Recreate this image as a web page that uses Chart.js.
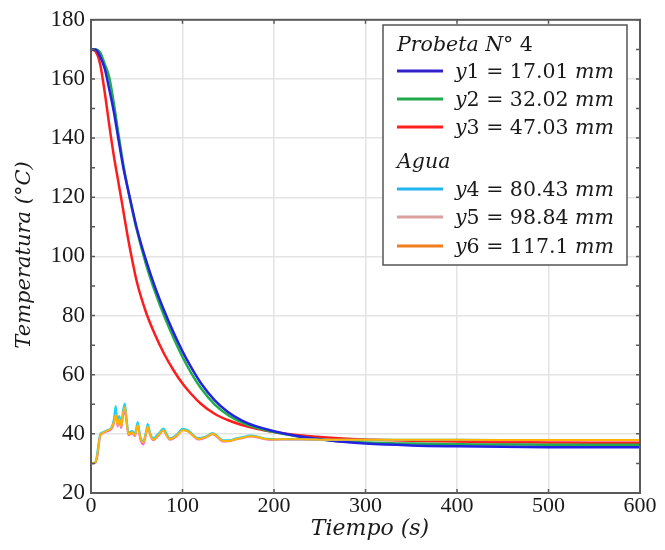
<!DOCTYPE html>
<html>
<head>
<meta charset="utf-8">
<script src="https://cdn.jsdelivr.net/npm/chart.js@4.4.1/dist/chart.umd.min.js"></script>
<style>
  html, body { margin: 0; padding: 0; background: #ffffff; }
  #wrap { width: 665px; height: 550px; }
</style>
</head>
<body>
<div id="wrap"><canvas id="c" width="665" height="550"></canvas></div>
<script>
// ---------- data ----------
const timeMain = [0, 5, 10, 15, 20, 25, 30, 35, 40, 45, 50, 60, 70, 80, 90, 100, 110, 120, 135, 150, 165, 180, 200, 225, 250, 275, 300, 350, 400, 450, 500, 550, 600];
const y1 = [170, 170, 167.5, 163.5, 156.5, 148.8, 139.6, 130.6, 123.2, 116.3, 109.6, 98.8, 89.6, 81.6, 74.4, 67.9, 62.2, 57.2, 51.4, 47.3, 44.5, 42.6, 40.9, 39.3, 38.2, 37.3, 36.7, 36.1, 35.8, 35.6, 35.5, 35.5, 35.5];
const y2 = [170, 170, 169, 165, 160.5, 151.6, 141.4, 131.6, 123.3, 115.8, 109.0, 97.5, 88.0, 79.8, 72.6, 66.0, 60.3, 55.5, 50.0, 46.3, 43.8, 42.1, 40.6, 39.2, 38.2, 37.5, 37.1, 36.7, 36.5, 36.4, 36.3, 36.3, 36.3];
const y3 = [170, 169.3, 165, 155.5, 144.3, 133.9, 125.0, 116.0, 106.9, 98.8, 91.5, 81.2, 73.5, 67.0, 61.6, 57.0, 53.3, 50.2, 46.8, 44.6, 43.0, 41.8, 40.6, 39.6, 38.9, 38.4, 38.1, 37.7, 37.4, 37.2, 37.1, 37.0, 37.0];

const timeWater = [0, 5, 7, 10, 13, 17, 22, 25, 27, 29, 31, 33, 35, 37, 39, 41, 45, 48, 51, 54, 57, 60, 62, 65, 68, 72, 75, 79, 83, 86, 90, 95, 100, 106, 112, 117, 125, 133, 139, 144, 150, 158, 166, 174, 182, 190, 200, 215, 230, 260, 300, 400, 500, 600];
const y4 = [30, 30.5, 34, 39.8, 40.5, 41.2, 42, 45, 49.4, 44, 46, 43, 48, 50.3, 45, 40.5, 41, 40, 44, 39, 37.5, 40.5, 43.3, 40, 38.5, 39.5, 40.5, 41.8, 39.8, 38.5, 38.9, 40.2, 41.7, 41.2, 39.6, 38.5, 39, 40.3, 39, 37.8, 37.8, 38.4, 38.9, 39.4, 39.1, 38.4, 38.2, 38.2, 38.2, 38, 38, 38, 37.9, 37.9];
const y5 = [30, 30.2, 32.5, 39.2, 40.2, 40.8, 41.5, 43.5, 47.5, 42.5, 44.5, 42, 46, 48, 43.5, 39.5, 40.2, 39.2, 42.8, 38, 36.4, 39.6, 42.3, 39.2, 37.8, 38.8, 39.8, 41.2, 39.2, 38, 38.4, 39.6, 41.3, 40.8, 39.2, 38.1, 38.7, 39.9, 38.6, 37.4, 37.5, 38.1, 38.6, 39.1, 38.8, 38.2, 38, 38.1, 38.1, 37.9, 37.9, 37.9, 37.8, 37.8];
const y6 = [30, 30.5, 33, 39.5, 40.3, 41, 41.8, 44, 46.5, 43, 45, 42.5, 47, 49, 44, 39.8, 40.5, 39.5, 43, 38.5, 37, 40, 42.5, 39.5, 38, 39, 40, 41.2, 39.3, 38.2, 38.6, 39.8, 41.2, 40.8, 39.3, 38.3, 38.8, 40, 38.8, 37.6, 37.6, 38.2, 38.7, 39.2, 38.9, 38.3, 38.1, 38.2, 38.2, 38, 38, 38, 37.9, 37.9];

const xTicks = [0, 100, 200, 300, 400, 500, 600];
const yTicks = [20, 40, 60, 80, 100, 120, 140, 160, 180];
const seriesLabels = ['y1 = 17.01 mm', 'y2 = 32.02 mm', 'y3 = 47.03 mm', 'y4 = 80.43 mm', 'y5 = 98.84 mm', 'y6 = 117.1 mm'];
const groupTitles = ['Probeta N° 4', 'Agua'];
const xTitle = 'Tiempo (s)';
const yTitle = 'Temperatura (°C)';

// ---------- styles ----------
const lineColors = ['#2222e0', '#22ad4c', '#ff1c1c', '#18d0ff', '#f060e6', '#ffb400'];
const legendColors = ['#3322cc', '#22aa4a', '#ff2020', '#22b4ee', '#dda0a0', '#f07d1f'];
const lineWidths = [2.5, 2.5, 2.5, 2, 2, 2];
const drawOrder = [3, 4, 5, 1, 2, 0];

function pts(times, vals) { return times.map((t, i) => ({ x: t, y: vals[i] })); }
const seriesData = [pts(timeMain, y1), pts(timeMain, y2), pts(timeMain, y3), pts(timeWater, y4), pts(timeWater, y5), pts(timeWater, y6)];

const datasets = seriesData.map((d, i) => ({
  label: seriesLabels[i],
  data: d,
  borderColor: lineColors[i],
  backgroundColor: lineColors[i],
  borderWidth: lineWidths[i],
  pointRadius: 0,
  cubicInterpolationMode: 'monotone',
  fill: false,
  order: drawOrder[i]
}));

const frameColor = '#5a5a5a';
const textColor = '#1a1a1a';

const framePlugin = {
  id: 'frame',
  afterDatasetsDraw(chart) {
    const ctx = chart.ctx, a = chart.chartArea;
    const xs = chart.scales.x, ys = chart.scales.y;
    ctx.save();
    ctx.strokeStyle = frameColor;
    ctx.lineWidth = 1.5;
    for (let v = ys.min; v <= ys.max; v += 10) {
      const py = ys.getPixelForValue(v);
      ctx.beginPath();
      ctx.moveTo(a.left, py); ctx.lineTo(a.left + 4, py);
      ctx.moveTo(a.right, py); ctx.lineTo(a.right - 4, py);
      ctx.stroke();
    }
    xTicks.forEach(v => {
      const px = xs.getPixelForValue(v);
      ctx.beginPath();
      ctx.moveTo(px, a.bottom); ctx.lineTo(px, a.bottom - 4);
      ctx.moveTo(px, a.top); ctx.lineTo(px, a.top + 4);
      ctx.stroke();
    });
    ctx.lineWidth = 2;
    ctx.strokeRect(a.left, a.top, a.right - a.left, a.bottom - a.top);
    // axis titles
    ctx.fillStyle = textColor;
    ctx.textAlign = 'center';
    ctx.textBaseline = 'middle';
    ctx.font = 'italic 22px "DejaVu Serif"';
    ctx.fillText(xTitle, 370, 529);
    ctx.font = 'italic 21px "DejaVu Serif"';
    ctx.translate(25, 255);
    ctx.rotate(-Math.PI / 2);
    ctx.fillText(yTitle, 0, 0);
    ctx.restore();
  }
};

function drawRuns(ctx, x, y, parts, size) {
  parts.forEach(([txt, italic]) => {
    ctx.font = (italic ? 'italic ' : '') + size + 'px "DejaVu Serif"';
    ctx.fillText(txt, x, y);
    x += ctx.measureText(txt).width;
  });
}

const legendPlugin = {
  id: 'customLegend',
  afterDraw(chart) {
    const ctx = chart.ctx;
    const bx = 383, by = 25, bw = 244, bh = 240;
    ctx.save();
    ctx.fillStyle = '#ffffff';
    ctx.fillRect(bx, by, bw, bh);
    ctx.strokeStyle = '#555555';
    ctx.lineWidth = 1.5;
    ctx.strokeRect(bx, by, bw, bh);
    ctx.fillStyle = textColor;
    ctx.textAlign = 'left';
    ctx.textBaseline = 'alphabetic';
    const fs = 20.5;
    const t1 = groupTitles[0].split(' ');
    drawRuns(ctx, 397, 51, [[t1[0] + ' ' + t1[1], true], [' ' + t1[2], false]], fs);
    drawRuns(ctx, 397, 168, [[groupTitles[1], true]], fs);
    const rowsY = [71, 99, 127, 189, 217, 246];
    seriesLabels.forEach((lab, i) => {
      const ry = rowsY[i];
      ctx.strokeStyle = legendColors[i];
      ctx.lineWidth = 3;
      ctx.beginPath();
      ctx.moveTo(397, ry); ctx.lineTo(443, ry);
      ctx.stroke();
      const m = lab.match(/^(y)(\d+ = [\d.]+ )(mm)$/);
      ctx.fillStyle = textColor;
      drawRuns(ctx, 455, ry + 7, [[m[1], true], [m[2], false], [m[3], true]], fs);
    });
    ctx.restore();
  }
};

new Chart(document.getElementById('c'), {
  type: 'line',
  data: { datasets },
  options: {
    responsive: false,
    animation: false,
    devicePixelRatio: 1,
    layout: { padding: { top: 16, right: 25, left: 0, bottom: 0 } },
    plugins: { legend: { display: false }, tooltip: { enabled: false } },
    scales: {
      x: {
        type: 'linear', min: 0, max: 600,
        afterBuildTicks(s) { s.ticks = xTicks.map(v => ({ value: v })); },
        afterFit(s) { s.height = 57; },
        ticks: { color: textColor, font: { family: 'Liberation Serif', size: 22 }, padding: 0, maxRotation: 0 },
        grid: { color: '#e4e4e4', lineWidth: 1.5, drawTicks: false },
        border: { display: false },
        title: { display: false }
      },
      y: {
        type: 'linear', min: 20, max: 180,
        afterBuildTicks(s) { const t = []; for (let v = 20; v <= 180; v += 10) t.push({ value: v }); s.ticks = t; },
        afterFit(s) { s.width = 91; },
        ticks: { color: textColor, font: { family: 'Liberation Serif', size: 23 }, padding: 6,
          callback: v => (yTicks.includes(v) ? String(v) : '') },
        grid: { color: '#e4e4e4', lineWidth: 1.5, drawTicks: false },
        border: { display: false },
        title: { display: false }
      }
    }
  },
  plugins: [framePlugin, legendPlugin]
});
</script>
</body>
</html>
